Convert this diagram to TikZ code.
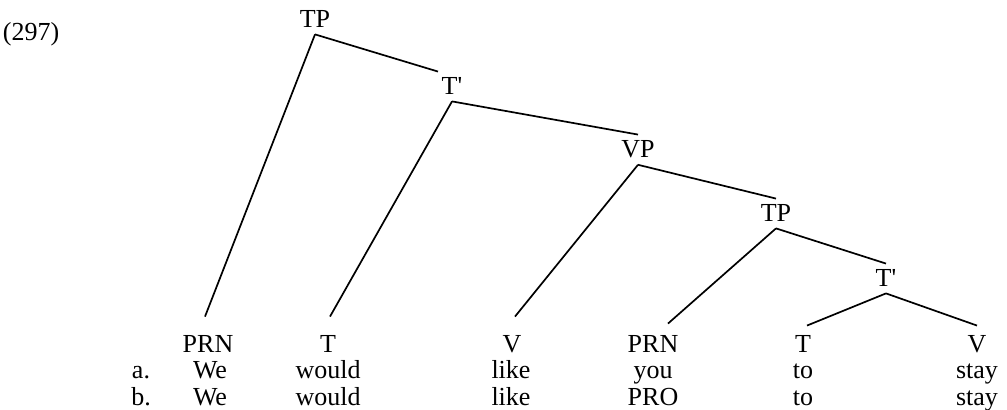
\documentclass[tikz,border=0pt]{standalone}
\usepackage{fontspec}
\setmainfont{Liberation Serif}
\usetikzlibrary{positioning}

\begin{document}
\begin{tikzpicture}[
    x=0.5pt, y=-0.5pt,
    font=\fontsize{13}{15}\selectfont,
    cat/.style={inner xsep=0pt, inner ysep=3pt, anchor=base},
    leaf/.style={inner xsep=0pt, inner ysep=5pt, anchor=base},
    word/.style={inner sep=0pt, anchor=base},
    branch/.style={line width=0.85pt}
]
\useasboundingbox (0,0) rectangle (1007,410);

% Example number
\node[word] (num) at (31,41) {(297)};

% Phrase nodes
\node[cat] (tp)  at (315,28)  {TP};
\node[cat] (tb)  at (452,95)  {T\textquotesingle};
\node[cat] (vp)  at (638,158) {VP};
\node[cat] (tp2) at (776,222) {TP};
\node[cat] (tb2) at (886,287) {T\textquotesingle};

% Leaf categories
\node[leaf] (prn)  at (208,353) {PRN};
\node[leaf] (t)    at (328,353) {T};
\node[leaf] (v)    at (512,353) {V};
\node[leaf] (prn2) at (653,353) {PRN};
\node[leaf] (t2)   at (803,353) {T};
\node[leaf] (v2)   at (977,353) {V};

% Words, rows a. and b.
\node[word] (la) at (141,379) {a.};
\node[word] (lb) at (141,406) {b.};
\foreach \w/\x/\n in {We/210/1, would/328/2, like/511/3, you/653/4, to/803/5, stay/977/6}
    \node[word] (a\n) at (\x,379) {\w};
\foreach \w/\x/\n in {We/210/1, would/328/2, like/511/3, PRO/653/4, to/803/5, stay/977/6}
    \node[word] (b\n) at (\x,406) {\w};

% Branches
\draw[branch] (tp.south) -- ([xshift=-1.5pt,yshift=4.5pt]prn.north);
\draw[branch] (tp.south) -- ([xshift=-7pt]tb.north);
\draw[branch] (tb.south) -- ([xshift=1pt,yshift=4.5pt]t.north);
\draw[branch] (tb.south) -- (vp.north);
\draw[branch] (vp.south) -- ([xshift=1.5pt,yshift=4.5pt]v.north);
\draw[branch] (vp.south) -- (tp2.north);
\draw[branch] (tp2.south) -- ([xshift=7.5pt,yshift=1pt]prn2.north);
\draw[branch] (tp2.south) -- (tb2.north);
\draw[branch] (tb2.south) -- ([xshift=2pt]t2.north);
\draw[branch] (tb2.south) -- (v2.north);

\end{tikzpicture}
\end{document}
